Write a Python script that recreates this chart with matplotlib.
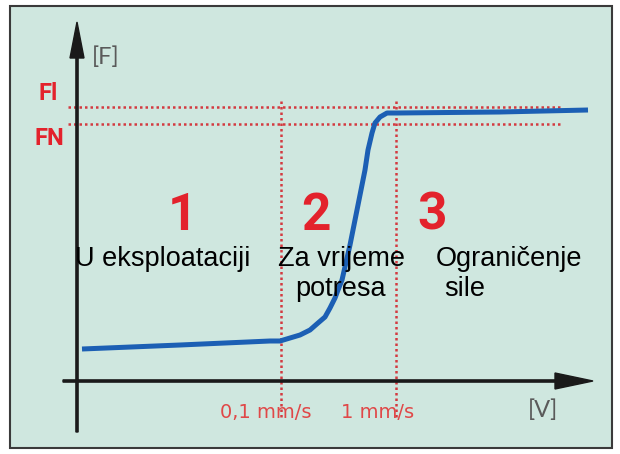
import matplotlib
matplotlib.use("Agg")
import matplotlib.pyplot as plt
from matplotlib.patches import Rectangle

# chart units: 1 unit = 1 px, origin where the two axes cross
curve_v = [5, 103, 193, 203, 213, 223, 233, 241, 248, 253, 258, 261, 265,
           273, 281, 288, 291, 295, 298, 303, 310, 320, 423, 511]
curve_f = [32, 36, 40, 40, 43, 46, 51, 58, 64, 73, 83, 91, 101,
           136, 176, 211, 231, 248, 258, 264, 268, 268, 269, 271]

level_names = ["Fl", "FN"]
level_f = [274, 257]
speed_v = [204, 319]
speed_labels = ["0,1 mm/s", "1 mm/s"]
speed_label_v = [189, 301]

zone_numbers = ["1", "2", "3"]
zone_number_v = [106, 239, 355]
zone_texts = ["U eksploataciji", "Za vrijeme\npotresa", "Ograničenje\nsile"]

RED = "#e3222c"
DOT = "#d33a40"
BLUE = "#1c5fb4"

fig = plt.figure(figsize=(6.2, 4.54), dpi=100)
ax = fig.add_axes([0, 0, 1, 1])
ax.set_xlim(-77, 543)
ax.set_ylim(-73, 381)
ax.axis("off")

ax.add_patch(Rectangle((-67, -67), 602, 442, facecolor="#cfe7df",
                       edgecolor="#3a3a3a", lw=1.5, zorder=0))

# dotted guide lines
for f in level_f:
    ax.plot([-9, 483], [f, f], color=DOT, lw=1.8, ls=(0, (1, 1.2)), zorder=2)
for v in speed_v:
    ax.plot([v, v], [-36, 281], color=DOT, lw=1.8, ls=(0, (1, 1.2)), zorder=2)

# axes
ax.arrow(0, -51, 0, 410, width=2.2, head_width=14, head_length=36,
         length_includes_head=True, color="#1a1a1a", zorder=3)
ax.arrow(-14, 0, 530, 0, width=2.2, head_width=16, head_length=38,
         length_includes_head=True, color="#1a1a1a", zorder=3)

ax.plot(curve_v, curve_f, color=BLUE, lw=3.6, solid_joinstyle="round",
        solid_capstyle="butt", zorder=4)

narrow = ["Roboto", "DejaVu Sans"]
ax.text(-29, 281, level_names[0], color=RED, fontsize=17, fontweight="bold",
        family=narrow, ha="center", va="baseline")
ax.text(-28, 236, level_names[1], color=RED, fontsize=17, fontweight="bold",
        family=narrow, ha="center", va="baseline")

unit = dict(color="#5a5a5a", fontsize=17, ha="center", va="center",
            family=["Lato", "DejaVu Sans"])
ax.text(29, 324, "[F]", **unit)
ax.text(466, -29, "[V]", **unit)

for lab, v in zip(speed_labels, speed_label_v):
    ax.text(v, -37, lab, color="#e04848", fontsize=14, ha="center", va="baseline")

for num, v in zip(zone_numbers, zone_number_v):
    ax.text(v, 151, num, color=RED, fontsize=37, fontweight="bold",
            family=narrow, ha="center", va="baseline")

txt = dict(fontsize=19.5, family="Liberation Sans", color="black", va="baseline",
           zorder=5)
ax.text(-2, 115, zone_texts[0], ha="left", **txt)
ax.text(264, 115, "Za vrijeme", ha="center", **txt)
ax.text(264, 85, "potresa", ha="center", **txt)
ax.text(432, 115, "Ograničenje", ha="center", **txt)
ax.text(388, 85, "sile", ha="center", **txt)

fig.savefig("out.png", dpi=100, facecolor="white")
